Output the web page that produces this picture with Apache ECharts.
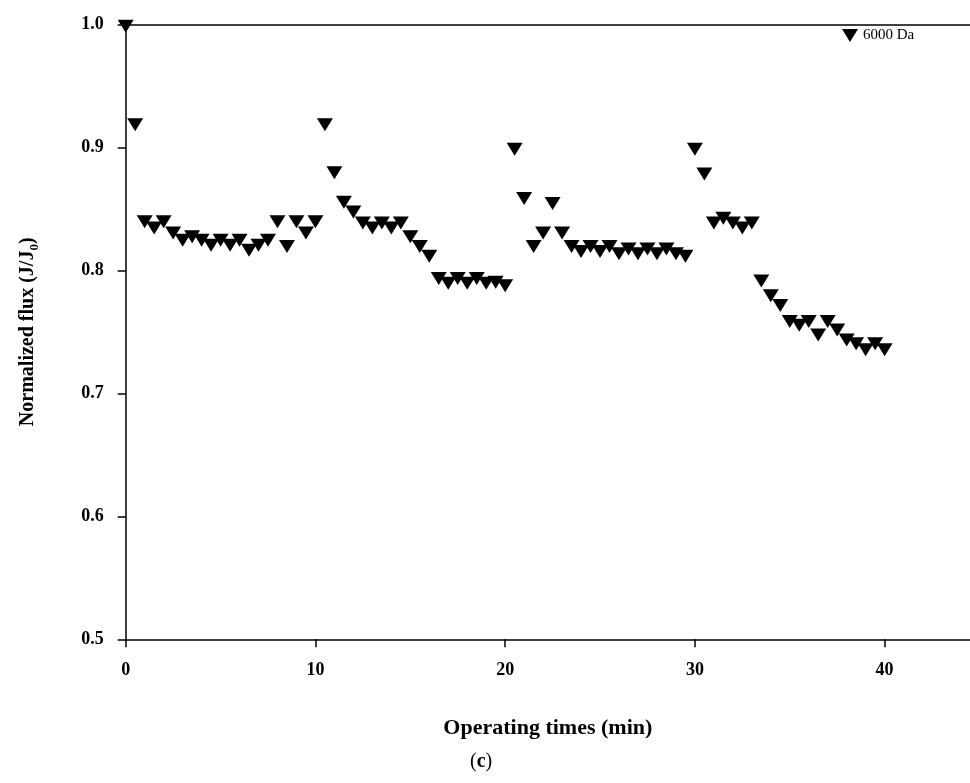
<!DOCTYPE html>
<html>
<head>
<meta charset="utf-8">
<script src="https://cdn.jsdelivr.net/npm/echarts@6/dist/echarts.min.js"></script>
<style>html,body{margin:0;padding:0;background:#fff}#c{width:970px;height:783px}</style>
</head>
<body>
<div id="c"></div>
<script>
var seriesName = '6000 Da';
var times = [0,0.5,1,1.5,2,2.5,3,3.5,4,4.5,5,5.5,6,6.5,7,7.5,8,8.5,9,9.5,10,10.5,11,11.5,12,12.5,13,13.5,14,14.5,15,15.5,16,16.5,17,17.5,18,18.5,19,19.5,20,20.5,21,21.5,22,22.5,23,23.5,24,24.5,25,25.5,26,26.5,27,27.5,28,28.5,29,29.5,30,30.5,31,31.5,32,32.5,33,33.5,34,34.5,35,35.5,36,36.5,37,37.5,38,38.5,39,39.5,40];
var flux = [1.000,0.920,0.841,0.836,0.841,0.832,0.826,0.829,0.826,0.822,0.826,0.822,0.826,0.818,0.822,0.826,0.841,0.821,0.841,0.832,0.841,0.920,0.881,0.857,0.849,0.840,0.836,0.840,0.836,0.840,0.829,0.821,0.813,0.795,0.791,0.795,0.791,0.795,0.791,0.792,0.789,0.900,0.860,0.821,0.832,0.856,0.832,0.821,0.817,0.821,0.817,0.821,0.815,0.819,0.815,0.819,0.815,0.819,0.815,0.813,0.900,0.880,0.840,0.844,0.840,0.836,0.840,0.793,0.781,0.773,0.760,0.757,0.760,0.749,0.760,0.753,0.745,0.742,0.737,0.742,0.737];
var xTicks = [0,10,20,30,40];
var yTicks = [0.5,0.6,0.7,0.8,0.9,1.0];

var pts = times.map(function(t,i){return [t, flux[i]];});
var tri = 'path://M0,0L16,0L8,13Z';
var font = '"Liberation Serif","Times New Roman",serif';
var chart = echarts.init(document.getElementById('c'));
chart.setOption({
  animation:false,
  textStyle:{fontFamily:font},
  grid:{left:125.7,top:24.3,right:0,bottom:143.7},
  legend:{
    data:[{name:seriesName,icon:tri,itemStyle:{color:'#000',opacity:1}}],
    left:837, top:23, itemWidth:16, itemHeight:13, itemGap:6,
    textStyle:{fontFamily:font,fontSize:15,color:'#000'}
  },
  xAxis:[{
    type:'value', min:0, max:44.5, interval:10,
    name:'Operating times (min)', nameLocation:'middle', nameGap:78,
    nameTextStyle:{fontFamily:font,fontWeight:'bold',fontSize:22,color:'#000'},
    axisLine:{lineStyle:{color:'#000',width:1.5}},
    axisTick:{length:8,customValues:xTicks,lineStyle:{color:'#000',width:1.5}},
    axisLabel:{margin:22,customValues:xTicks,fontFamily:font,fontWeight:'bold',fontSize:18,color:'#000'},
    splitLine:{show:false}
  },{
    type:'value', position:'top', min:0, max:44.5,
    axisLine:{show:true,lineStyle:{color:'#000',width:1.5}},
    axisTick:{show:false}, axisLabel:{show:false}, splitLine:{show:false}
  }],
  yAxis:{
    type:'value', min:0.5, max:1.0, interval:0.1,
    name:'Normalized flux (J/J{s|0})', nameLocation:'middle', nameGap:85,
    nameTextStyle:{fontFamily:font,fontWeight:'bold',fontSize:20,color:'#000',
      rich:{s:{fontFamily:font,fontWeight:'bold',fontSize:13,color:'#000',padding:[12,0,0,0]}}},
    axisLine:{lineStyle:{color:'#000',width:1.5}},
    axisTick:{length:8,customValues:yTicks,lineStyle:{color:'#000',width:1.5}},
    axisLabel:{margin:22,customValues:yTicks,fontFamily:font,fontWeight:'bold',fontSize:18,color:'#000',
      formatter:function(v){return v.toFixed(1);}},
    splitLine:{show:false}
  },
  series:[{
    name:seriesName, type:'scatter', data:pts,
    symbol:tri, symbolSize:[16,13], symbolOffset:[0,2],
    itemStyle:{color:'#000',opacity:1}, clip:false, z:5
  }],
  graphic:[{
    type:'text', left:470, top:752,
    style:{text:'({b|c})', font:'20px '+font, fill:'#000',
      rich:{b:{fontFamily:font,fontWeight:'bold',fontSize:20,fill:'#000'}}}
  }]
});
</script>
</body>
</html>
